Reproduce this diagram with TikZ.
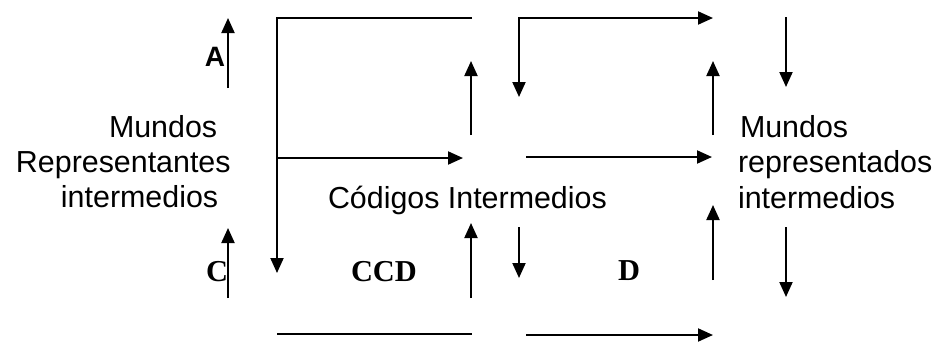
\documentclass[tikz,border=0pt]{standalone}
\usepackage{fontspec}
\setmainfont{Liberation Serif}
\setsansfont{Liberation Sans}
\usetikzlibrary{positioning,arrows.meta}

\begin{document}
\begin{tikzpicture}[
x=0.5pt,y=-0.5pt,
line width=1pt,
>={Triangle[length=7.5pt,width=6.5pt]},
every node/.style={inner sep=0pt,anchor=base west},
txt/.style={font=\sffamily\fontsize{15.2}{18}\selectfont},
lbl/.style={font=\rmfamily\bfseries\fontsize{15.2}{18}\selectfont},
]
\useasboundingbox (0,0) rectangle (939,343);

\node[txt] (lm1) at (108,137) {Mundos};
\node[txt] (lm2) at (15,172) {Representantes};
\node[txt] (lm3) at (60,207) {intermedios};

\node[txt] (rm1) at (739,137) {Mundos};
\node[txt] (rm2) at (737,172) {representados};
\node[txt] (rm3) at (737,208) {intermedios};

\node[txt] (ci) at (327,208) {Códigos Intermedios};

\node[font=\sffamily\bfseries\fontsize{14}{16}\selectfont,anchor=base east] (la) at (226,66) {A};
\node[lbl] (lc) at (205,281) {C};
\node[lbl] (lccd) at (350,281) {CCD};
\node[lbl] (ld) at (617,280) {D};

\coordinate (au) at (228,88);  \coordinate (at) at (228,18);
\coordinate (cu) at (228,298); \coordinate (ct) at (228,228);

\coordinate (f1) at (472,18); \coordinate (f2) at (277,18); \coordinate (f3) at (277,273);
\coordinate (m1) at (277,158); \coordinate (m2) at (463,158);
\coordinate (b1) at (277,334); \coordinate (b2) at (472,334);

\coordinate (u1) at (471,135); \coordinate (u2) at (471,61);
\coordinate (u3) at (471,298); \coordinate (u4) at (471,223);
\coordinate (d1) at (519,97);  \coordinate (d2) at (713,18);
\coordinate (d3) at (519,227); \coordinate (d4) at (519,278);
\coordinate (m3) at (526,157); \coordinate (m4) at (712,157);
\coordinate (b3) at (526,335); \coordinate (b4) at (713,335);

\coordinate (r1) at (713,135); \coordinate (r2) at (713,61);
\coordinate (r3) at (713,280); \coordinate (r4) at (713,205);
\coordinate (s1) at (786,17);  \coordinate (s2) at (786,87);
\coordinate (s3) at (786,227); \coordinate (s4) at (786,297);

\draw[->] (au) -- (at);
\draw[->] (cu) -- (ct);
\draw[->] (f1) -- (f2) -- (f3);
\draw[->] (m1) -- (m2);
\draw (b1) -- (b2);
\draw[->] (u1) -- (u2);
\draw[->] (u3) -- (u4);
\draw[<->] (d1) |- (d2);
\draw[->] (d3) -- (d4);
\draw[->] (m3) -- (m4);
\draw[->] (b3) -- (b4);
\draw[->] (r1) -- (r2);
\draw[->] (r3) -- (r4);
\draw[->] (s1) -- (s2);
\draw[->] (s3) -- (s4);

\end{tikzpicture}
\end{document}
